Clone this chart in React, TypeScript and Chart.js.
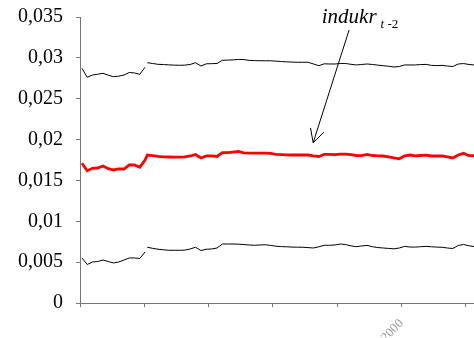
import { useEffect, useRef } from "react";
import { Chart, registerables } from "chart.js";

Chart.register(...registerables);

// ---- data ----
const xTickValues = [0, 12, 24, 36, 48, 60, 72];
const xTickLabels = ["", "", "", "", "", "2000", ""];
const yTickValues = [0, 0.005, 0.01, 0.015, 0.02, 0.025, 0.03, 0.035];
const yTickLabels = ["0", "0,005", "0,01", "0,015", "0,02", "0,025", "0,03", "0,035"];

// time index (months) of the two sub-periods
const seg1Start = 0.37;
const seg1Step = 0.98;
const seg2Start = 12.56;
const seg2Step = 1;

const seg1Upper = [0.02872, 0.02762, 0.0279, 0.028, 0.02811, 0.02788, 0.02769, 0.02776, 0.0279, 0.02821, 0.02815, 0.02799, 0.02885];
const seg1Red = [0.0171, 0.01619, 0.01648, 0.01652, 0.01677, 0.01644, 0.01628, 0.0164, 0.0164, 0.01689, 0.01689, 0.01661, 0.0175];
const seg1Lower = [0.00551, 0.00471, 0.00502, 0.00508, 0.00526, 0.00508, 0.0049, 0.00502, 0.00526, 0.00551, 0.00551, 0.00545, 0.00624];

const seg2Upper = [
  0.02941, 0.02931, 0.02921, 0.02918, 0.02914, 0.02911, 0.02909, 0.02911, 0.02919, 0.02941,
  0.029, 0.02927, 0.02929, 0.02931, 0.0297, 0.02973, 0.02975, 0.02981, 0.02979, 0.02969,
  0.02966, 0.02965, 0.02964, 0.02964, 0.0296, 0.02955, 0.02951, 0.02948, 0.02946, 0.02946,
  0.02946, 0.02925, 0.02904, 0.02927, 0.02925, 0.02925, 0.02931, 0.02931, 0.02921, 0.02913,
  0.02919, 0.02925, 0.02919, 0.02911, 0.02904, 0.02897, 0.02888, 0.02894, 0.02913, 0.02913,
  0.02913, 0.02918, 0.0292, 0.02908, 0.02905, 0.02908, 0.029, 0.02894, 0.02925, 0.0293,
  0.02919, 0.02913,
];
const seg2Red = [
  0.01811, 0.01804, 0.01794, 0.01788, 0.01787, 0.01786, 0.01784, 0.01787, 0.01799, 0.01817,
  0.01775, 0.01801, 0.01801, 0.01793, 0.01841, 0.01841, 0.01847, 0.01854, 0.01838, 0.01833,
  0.01833, 0.01833, 0.01833, 0.01832, 0.0182, 0.01816, 0.01812, 0.01811, 0.01811, 0.01811,
  0.01811, 0.01801, 0.01793, 0.0182, 0.0182, 0.01817, 0.01823, 0.01823, 0.01815, 0.01805,
  0.01804, 0.01819, 0.01805, 0.01801, 0.01799, 0.01789, 0.01777, 0.01765, 0.01801, 0.01811,
  0.01801, 0.01805, 0.01809, 0.01799, 0.01799, 0.01799, 0.01787, 0.01775, 0.01811, 0.01832,
  0.01803, 0.01803,
];
const seg2Lower = [
  0.00682, 0.00669, 0.00658, 0.00651, 0.00645, 0.00645, 0.00645, 0.00647, 0.00661, 0.00683,
  0.00642, 0.00658, 0.00661, 0.00673, 0.00722, 0.00722, 0.00722, 0.0072, 0.00715, 0.0071,
  0.00706, 0.0071, 0.00713, 0.00705, 0.00695, 0.0069, 0.00688, 0.00684, 0.00683, 0.00682,
  0.00678, 0.00673, 0.00688, 0.00706, 0.00706, 0.0071, 0.00722, 0.00715, 0.00699, 0.00689,
  0.00698, 0.00705, 0.00688, 0.00679, 0.00673, 0.00668, 0.00663, 0.00673, 0.00693, 0.00685,
  0.00684, 0.00689, 0.00693, 0.00688, 0.00684, 0.00682, 0.00673, 0.00667, 0.00704, 0.00716,
  0.007, 0.00691,
];

// annotation (data coordinates)
const annotationMain = "indukr";
const annotationSubItalic = "t";
const annotationSubRest = " -2";
const annotationAnchor = { x: 45.1, y: 0.03427 };
const arrowFrom = { x: 50.2, y: 0.03341 };
const arrowTo = { x: 43.5, y: 0.01962 };

type Pt = { x: number; y: number | null };

function buildPoints(s1: number[], s2: number[], gap: boolean): Pt[] {
  const pts: Pt[] = s1.map((v, i) => ({ x: seg1Start + i * seg1Step, y: v }));
  if (gap) pts.push({ x: (seg1Start + (s1.length - 1) * seg1Step + seg2Start) / 2, y: null });
  s2.forEach((v, i) => pts.push({ x: seg2Start + i * seg2Step, y: v }));
  return pts;
}

const annotationPlugin = {
  id: "annot",
  afterDraw(chart: any) {
    const { ctx, scales } = chart;
    const xs = scales.x;
    const ys = scales.y;
    ctx.save();
    ctx.fillStyle = "#000";
    ctx.textBaseline = "alphabetic";
    ctx.textAlign = "left";
    const ax = xs.getPixelForValue(annotationAnchor.x);
    const ay = ys.getPixelForValue(annotationAnchor.y);
    ctx.font = 'italic 21px "Liberation Serif"';
    ctx.fillText(annotationMain, ax, ay);
    const w = ctx.measureText(annotationMain).width;
    ctx.font = 'italic 13px "Liberation Serif"';
    const sx = ax + w + 4;
    ctx.fillText(annotationSubItalic, sx, ay + 5);
    const w2 = ctx.measureText(annotationSubItalic).width;
    ctx.font = '13px "Liberation Serif"';
    ctx.fillText(annotationSubRest, sx + w2, ay + 5);

    const x1 = xs.getPixelForValue(arrowFrom.x);
    const y1 = ys.getPixelForValue(arrowFrom.y);
    const x2 = xs.getPixelForValue(arrowTo.x);
    const y2 = ys.getPixelForValue(arrowTo.y);
    ctx.strokeStyle = "#000";
    ctx.lineWidth = 1;
    ctx.beginPath();
    ctx.moveTo(x1, y1);
    ctx.lineTo(x2, y2);
    const ang = Math.atan2(y1 - y2, x1 - x2);
    const hl = 15;
    const ha = (28 * Math.PI) / 180;
    ctx.moveTo(x2 + hl * Math.cos(ang - ha), y2 + hl * Math.sin(ang - ha));
    ctx.lineTo(x2, y2);
    ctx.lineTo(x2 + hl * Math.cos(ang + ha), y2 + hl * Math.sin(ang + ha));
    ctx.stroke();
    ctx.restore();
  },
};

export default function App() {
  const ref = useRef<HTMLCanvasElement | null>(null);
  useEffect(() => {
    if (!ref.current) return;
    const chart = new Chart(ref.current, {
      type: "line",
      data: {
        datasets: [
          {
            data: buildPoints(seg1Upper, seg2Upper, true) as any,
            borderColor: "#000",
            borderWidth: 1,
            pointRadius: 0,
            tension: 0,
          },
          {
            data: buildPoints(seg1Red, seg2Red, false) as any,
            borderColor: "#ff0000",
            borderWidth: 2.8,
            pointRadius: 0,
            tension: 0,
          },
          {
            data: buildPoints(seg1Lower, seg2Lower, true) as any,
            borderColor: "#000",
            borderWidth: 1,
            pointRadius: 0,
            tension: 0,
          },
        ],
      },
      options: {
        animation: false,
        responsive: false,
        devicePixelRatio: 1,
        layout: { padding: { top: 17, right: 0, bottom: 0, left: 0 } },
        plugins: { legend: { display: false }, tooltip: { enabled: false } },
        scales: {
          x: {
            type: "linear",
            min: 0,
            max: 73.5,
            afterBuildTicks: (s: any) => {
              s.ticks = xTickValues.map((v) => ({ value: v }));
            },
            afterFit: (s: any) => {
              s.height = 35;
              s.paddingLeft = 0;
              s.paddingRight = 0;
            },
            grid: { drawOnChartArea: false, drawTicks: true, tickLength: 4, color: "#777" },
            border: { display: true, color: "#777", width: 1 },
            ticks: {
              autoSkip: false,
              minRotation: 45,
              maxRotation: 45,
              padding: 9,
              color: "#999",
              font: { family: '"Liberation Serif"', size: 13 },
              callback: (v: any) => {
                const i = xTickValues.indexOf(Number(v));
                return i >= 0 ? xTickLabels[i] : "";
              },
            },
          },
          y: {
            min: 0,
            max: 0.035,
            afterBuildTicks: (s: any) => {
              s.ticks = yTickValues.map((v) => ({ value: v }));
            },
            afterFit: (s: any) => {
              s.width = 80;
              s.paddingTop = 0;
              s.paddingBottom = 0;
            },
            grid: { drawOnChartArea: false, drawTicks: true, tickLength: 4, color: "#777" },
            border: { display: true, color: "#777", width: 1 },
            ticks: {
              padding: 13,
              color: "#000",
              font: { family: '"Liberation Serif"', size: 20 },
              callback: (v: any) => {
                const i = yTickValues.findIndex((t) => Math.abs(t - Number(v)) < 1e-9);
                return i >= 0 ? yTickLabels[i] : "";
              },
            },
          },
        },
      },
      plugins: [annotationPlugin],
    });
    return () => chart.destroy();
  }, []);
  return (
    <div style={{ position: "absolute", left: 0, top: 0, width: 474, height: 338, background: "#fff" }}>
      <canvas ref={ref} width={474} height={338} style={{ display: "block", width: 474, height: 338 }} />
    </div>
  );
}
